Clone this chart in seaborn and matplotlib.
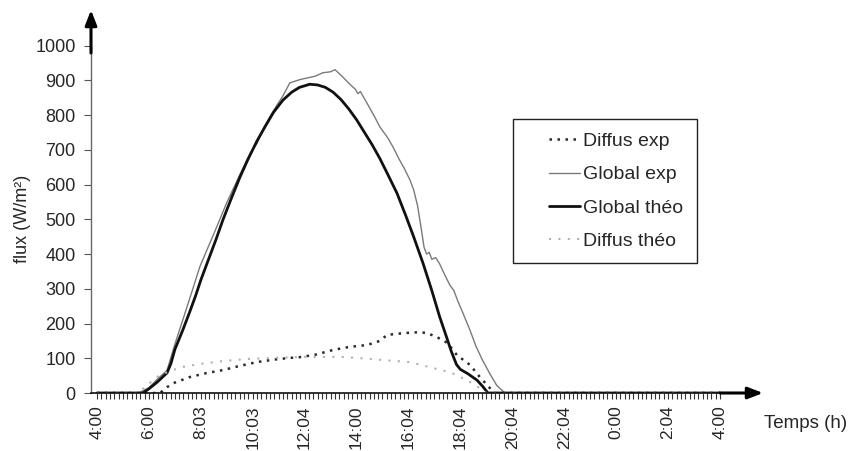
import numpy as np
import matplotlib
matplotlib.use('Agg')
import matplotlib.pyplot as plt
from matplotlib.legend_handler import HandlerLine2D
import seaborn as sns

# Values (hours since midnight, W/m²)
global_theo_h = [4.0, 5.77, 6.0, 6.3, 6.7, 6.85, 7.0, 7.3, 7.58, 7.8, 8.0, 8.3,
                 8.6, 8.85, 9.2, 9.5, 9.8, 10.16, 10.5, 10.8, 11.16, 11.5, 11.8,
                 12.2, 12.5, 12.8, 13.1, 13.4, 13.7, 14.0, 14.25, 14.6, 14.9,
                 15.2, 15.56, 15.9, 16.2, 16.56, 16.9, 17.2, 17.45, 17.65,
                 17.85, 18.0, 18.3, 18.64, 18.85, 19.06, 28.0]
global_theo_v = [0, 0, 12, 30, 58, 85, 125, 180, 235, 280, 325, 385,
                 445, 498, 565, 620, 670, 725, 770, 808, 843, 866, 880,
                 889, 887, 880, 866, 845, 818, 787, 757, 715, 675,
                 630, 575, 510, 450, 374, 295, 220, 165, 120,
                 82, 68, 55, 37, 20, 0, 0]

global_exp_h = [4.0, 5.6, 6.0, 6.3, 6.7, 7.0, 7.5, 7.97, 8.5, 9.0, 9.5, 9.9,
                10.16, 10.4, 10.66, 10.9, 11.16, 11.43, 11.8, 12.09, 12.4, 12.7,
                13.0, 13.17, 13.4, 13.6, 13.8, 13.95, 14.05, 14.15, 14.4, 14.7,
                14.9, 15.2, 15.4, 15.65, 15.85, 16.06, 16.2, 16.35, 16.5, 16.6,
                16.7, 16.8, 16.9, 17.05, 17.2, 17.4, 17.6, 17.75, 17.9, 18.1,
                18.37, 18.6, 18.85, 19.14, 19.4, 19.72, 28.0]
global_exp_v = [0, 0, 15, 38, 65, 140, 255, 365, 458, 548, 628, 690,
                718, 760, 795, 825, 855, 893, 902, 907, 912, 922,
                925, 931, 915, 900, 885, 875, 862, 868, 835, 795,
                766, 735, 709, 672, 645, 613, 585, 540, 470, 420,
                400, 405, 385, 390, 372, 340, 310, 295, 265, 230,
                181, 135, 95, 55, 22, 0, 0]

diffus_exp_h = [4.0, 6.43, 6.7, 7.0, 7.58, 8.2, 8.85, 9.5, 10.16, 10.8, 11.43,
                11.8, 12.4, 13.1, 13.75, 14.4, 14.9, 15.17, 15.5, 15.94, 16.4,
                16.7, 17.1, 17.5, 17.87, 18.37, 18.75, 19.14, 19.3, 28.0]
diffus_exp_v = [0, 0, 17, 30, 46, 57, 66, 78, 89, 96, 101,
                103, 110, 124, 133, 138, 150, 167, 170, 173, 175,
                173, 161, 144, 109, 81, 46, 14, 0, 0]

diffus_theo_h = [4.0, 5.58, 5.9, 6.3, 6.8, 7.3, 8.0, 8.85, 9.8, 10.8, 12.0,
                 13.36, 14.2, 15.0, 16.06, 16.94, 17.6, 18.25, 18.75, 19.0, 28.0]
diffus_theo_v = [0, 0, 20, 46, 63, 75, 84, 92, 98, 101, 104,
                 104, 100, 95, 89, 72, 60, 37, 14, 0, 0]

tick_hours = [4, 6, 8, 10, 12, 14, 16, 18, 20, 22, 24, 26, 28]
tick_labels = ['4:00', '6:00', '8:03', '10:03', '12:04', '14:00', '16:04',
               '18:04', '20:04', '22:04', '0:00', '2:04', '4:00']


class OffsetLine(HandlerLine2D):
    """Legend line that leaves a blank gap on its left side."""
    shift = 16

    def create_artists(self, legend, orig_handle, xdescent, ydescent,
                       width, height, fontsize, trans):
        arts = super().create_artists(legend, orig_handle, xdescent, ydescent,
                                      width, height, fontsize, trans)
        for a in arts:
            x = np.asarray(a.get_xdata(), dtype=float)
            a.set_xdata(np.linspace(x[0] + self.shift, x[-1], len(x)))
        return arts


sns.set_style('white')
plt.rcParams['font.family'] = ['Liberation Sans', 'DejaVu Sans']

W, H = 856, 451
fig = plt.figure(figsize=(W / 100, H / 100), dpi=100)
ax = fig.add_axes([91 / W, 1 - 393 / H, (722 - 91) / W, (393 - 45.7) / H])

sns.lineplot(x=diffus_exp_h, y=diffus_exp_v, ax=ax, color='#2b2b2b',
             linewidth=1.8, linestyle=(0, (1, 2.2)), label='Diffus exp')
sns.lineplot(x=global_exp_h, y=global_exp_v, ax=ax, color='#7a7a7a',
             linewidth=1.0, label='Global exp')
sns.lineplot(x=global_theo_h, y=global_theo_v, ax=ax, color='#111111',
             linewidth=2.0, label='Global théo')
sns.lineplot(x=diffus_theo_h, y=diffus_theo_v, ax=ax, color='#b0b0b0',
             linewidth=1.5, linestyle=(0, (1, 3.5)), label='Diffus théo')

ax.set_xlim(3.77, 28.08)
ax.set_ylim(0, 1000)
ax.set_yticks(np.arange(0, 1001, 100))
ax.set_xticks(tick_hours)
ax.set_xticklabels(tick_labels, rotation=90, fontsize=12.5)
ax.set_xticks(np.arange(4, 28.1, 1 / 6), minor=True)
ax.tick_params(axis='x', which='both', direction='out', length=4, width=0.8,
               color='#333333', pad=5, bottom=True)
ax.tick_params(axis='y', direction='out', length=5, width=0.8,
               color='#555555', pad=6, labelsize=13, left=True)
ax.set_ylabel('flux (W/m²)', fontsize=13, labelpad=3)
ax.set_xlabel('')

for side in ['top', 'right']:
    ax.spines[side].set_visible(False)
ax.spines['left'].set_color('#666666')
ax.spines['left'].set_linewidth(1.0)
ax.spines['bottom'].set_color('#111111')
ax.spines['bottom'].set_linewidth(1.2)

# Axis arrows
arrow = dict(arrowstyle='-|>,head_length=0.9,head_width=0.35', color='black',
             lw=2.2, shrinkA=0, shrinkB=0)
ax.annotate('', xy=(763, H - 393), xytext=(720, H - 393),
            xycoords='figure pixels', textcoords='figure pixels',
            arrowprops=arrow)
ax.annotate('', xy=(91, H - 10), xytext=(91, H - 53),
            xycoords='figure pixels', textcoords='figure pixels',
            arrowprops=arrow)

fig.text(764 / W, 1 - 423 / H, 'Temps (h)', fontsize=13.5, va='center',
         ha='left')

handles, labels = ax.get_legend_handles_labels()
leg = ax.legend(handles, labels, loc='upper left',
                bbox_to_anchor=(513 / W, 1 - 119 / H),
                bbox_transform=fig.transFigure, borderaxespad=0,
                fontsize=14, frameon=True, fancybox=False, framealpha=1,
                handlelength=2.75, handletextpad=0.15, labelspacing=0.8,
                borderpad=0.7,
                handler_map={h: OffsetLine() for h in handles})
leg.get_frame().set_edgecolor('#222222')
leg.get_frame().set_linewidth(1.0)

fig.savefig('out.png', dpi=100)
